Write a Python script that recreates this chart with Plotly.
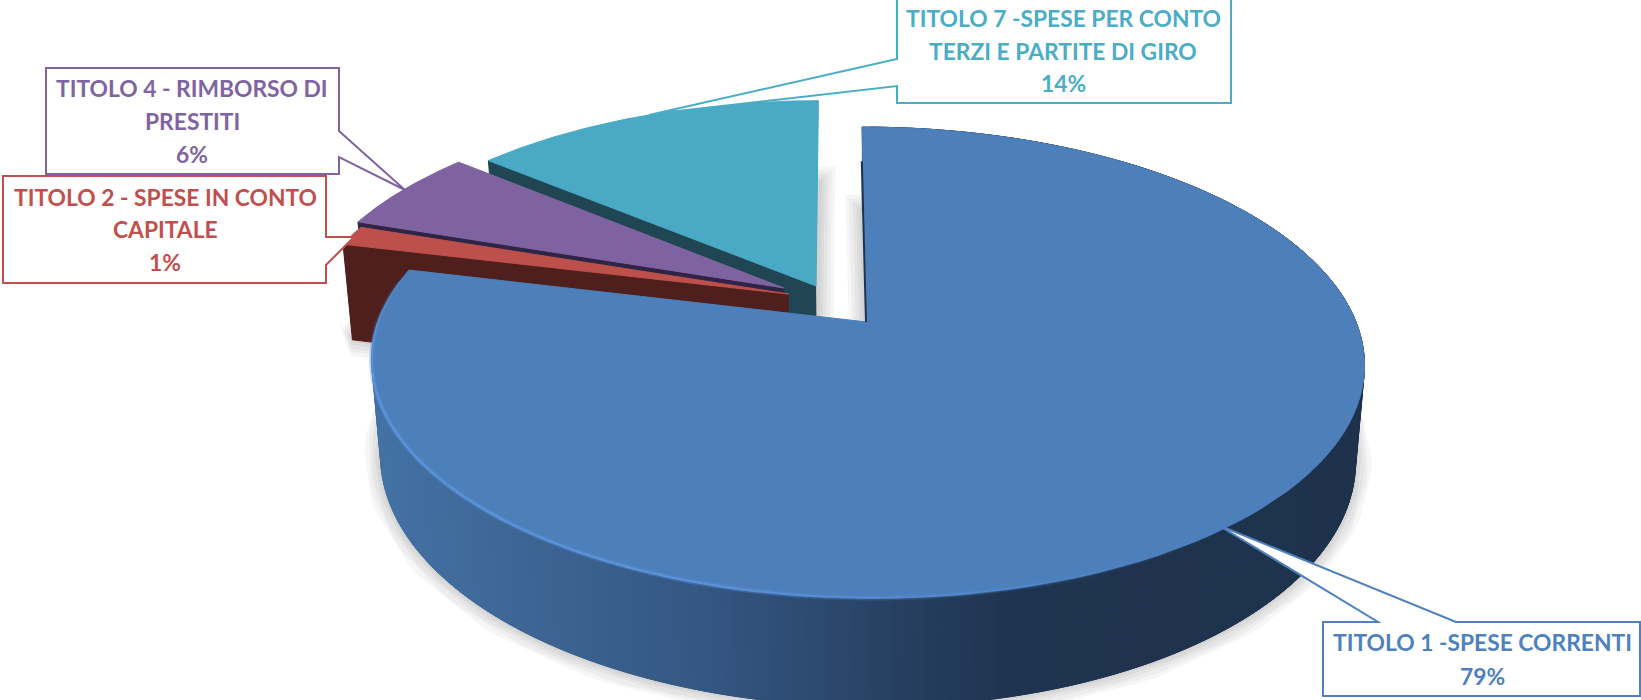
import numpy as np
import plotly.graph_objects as go

# chart data
categories = ["TITOLO 1 -SPESE CORRENTI", "TITOLO 2 - SPESE IN CONTO CAPITALE",
              "TITOLO 4 - RIMBORSO DI PRESTITI", "TITOLO 7 -SPESE PER CONTO TERZI E PARTITE DI GIRO"]
values = [78.8, 1.4, 5.9, 13.9]
label_lines = [["TITOLO 1 -SPESE CORRENTI"],
               ["TITOLO 2 - SPESE IN CONTO", "CAPITALE"],
               ["TITOLO 4 - RIMBORSO DI", "PRESTITI"],
               ["TITOLO 7 -SPESE PER CONTO", "TERZI E PARTITE DI GIRO"]]

# styling per slice
top_colors = ["#4d7fbb", "#bd504b", "#7f63a1", "#4aa9c4"]
text_colors = ["#4f81bd", "#c0504d", "#8064a2", "#4bacc6"]
wall_colors = [None, "#4f1f1e", "#2f2445", "#1f4652"]
explode = [(0, 0), (-0.162, 0.125), (-0.173, 0.153), (-0.105, 0.162)]  # offset in the pie plane
depth = [94, 100, 94, 94]

# label boxes: left, top, right, bottom, callout points, text centre x, line y positions
boxes = [
    dict(x0=1323, y0=622, x1=1640, y1=696, tail=[(1378, 622), (1218, 525), (1456, 622)], cx=1482, ys=[642, 676]),
    dict(x0=3, y0=176, x1=326, y1=283, tail=[(326, 237), (354, 237), (326, 265)], cx=165, ys=[197, 229, 262]),
    dict(x0=46, y0=68, x1=339, y1=174, tail=[(339, 131), (405, 190), (339, 157)], cx=192, ys=[88, 121, 154]),
    dict(x0=897, y0=-1, x1=1231, y1=103, tail=[(897, 86), (669, 112), (649, 115), (897, 59)], cx=1063, ys=[18, 51, 83]),
]

# perspective of the pie plane in page pixels
CX, CY = 867, 322
A, B = 489, 228.5
K = 0.172
SKEW = -6
LOW = 0.982


def project(u, v, drop=0):
    d = 1 + K * v
    scale = LOW if drop else 1
    return CX + (A * scale * u + SKEW * v) / d, CY - B * scale * v / d + drop / d


def arc(a0, a1, off, drop=0, n=120):
    t = np.radians(np.linspace(a0, a1, n))
    return project(np.sin(t) + off[0], np.cos(t) + off[1], drop)


def add_poly(fig, x, y, color, name=None):
    fig.add_trace(go.Scatter(
        x=list(x), y=list(y), mode="lines", fill="toself", fillcolor=color,
        line=dict(color=color, width=1), showlegend=False,
        hoverinfo="text" if name else "skip", text=name, hoveron="fills"
    ))


def add_line(fig, x, y, color, width):
    fig.add_trace(go.Scatter(
        x=list(x), y=list(y), mode="lines", line=dict(color=color, width=width),
        showlegend=False, hoverinfo="skip"
    ))


def slice_outline(a0, a1, off, drop=0):
    ax, ay = arc(a0, a1, off, drop)
    px, py = project(off[0], off[1], drop)
    return np.r_[px, ax, px], np.r_[py, ay, py]


def wall_color(x):
    # front wall of the big slice gets darker to the right
    stops_x = [372, 700, 1000, 1400]
    r = np.interp(x, stops_x, [68, 52, 31, 30])
    g = np.interp(x, stops_x, [114, 86, 52, 50])
    b = np.interp(x, stops_x, [164, 130, 80, 76])
    return f"rgb({r:.0f},{g:.0f},{b:.0f})"


ends = np.cumsum(values) / sum(values) * 360
starts = np.r_[0, ends[:-1]]

fig = go.Figure()

# soft shadow round the foot of each slice
for i in range(len(values)):
    sx, sy = slice_outline(starts[i], ends[i], explode[i], depth[i])
    for w in (32, 25, 18, 11, 5):
        add_line(fig, sx, sy, "rgba(0,0,0,0.035)", w)

# exploded slices, back to front
for i in (3, 2, 1):
    off = explode[i]
    px0, py0 = project(off[0], off[1])
    px1, py1 = project(off[0], off[1], depth[i])
    ax, ay = arc(starts[i], ends[i], off)
    lx, ly = arc(starts[i], ends[i], off, depth[i])
    if i == 1:  # the outer wall of the others never shows
        add_poly(fig, np.r_[ax, lx[::-1]], np.r_[ay, ly[::-1]], wall_colors[i])
    add_poly(fig, [px0, ax[0], lx[0], px1], [py0, ay[0], ly[0], py1], wall_colors[i])
    tx, ty = slice_outline(starts[i], ends[i], off)
    add_poly(fig, tx, ty, top_colors[i], f"{categories[i]}: {values[i]:.0f}%")

# big slice: wall as overlapping strips so the shade can change along it
edges = np.linspace(starts[0], ends[0], 241)
for a0, a1 in zip(edges[:-1], edges[2:]):
    ax, ay = arc(a0, a1, explode[0], n=3)
    lx, ly = arc(a0, a1, explode[0], depth[0], n=3)
    add_poly(fig, np.r_[ax, lx[::-1]], np.r_[ay, ly[::-1]], wall_color(ax.mean()))

tx, ty = slice_outline(starts[0], ends[0], explode[0])
add_poly(fig, tx, ty, top_colors[0], f"{categories[0]}: {values[0]:.0f}%")

# dark sliver along the straight edge at twelve o'clock
ex, ey = project(np.zeros(2), np.array([0.80, 0.0]))
add_line(fig, ex - 1, ey, "#1f3350", 2)

# light rim on the front left of the top face
rim = np.linspace(140, ends[0] - 3, 80)
for a0, a1 in zip(rim[:-1], rim[1:]):
    ax, ay = arc(a0, a1, explode[0], n=3)
    alpha = np.clip((a0 - 140) / 60, 0, 1) * np.clip((ends[0] - a0) / 25, 0.3, 1)
    add_line(fig, ax, ay, f"rgba(92,148,220,{alpha * 0.35:.2f})", 5)
    add_line(fig, ax, ay, f"rgba(92,148,220,{alpha:.2f})", 2)

# label boxes with their callout tails
shapes = []
annotations = []
for i, box in enumerate(boxes):
    x0, y0, x1, y1 = box["x0"], box["y0"], box["x1"], box["y1"]
    if i in (1, 2):
        pts = [(x1, y0), *box["tail"], (x1, y1), (x0, y1), (x0, y0)]
    elif i == 3:
        pts = [(x0, y0), (x1, y0), (x1, y1), (x0, y1), *box["tail"]]
    else:
        pts = [(x0, y0), *box["tail"], (x1, y0), (x1, y1), (x0, y1)]
    path = "M " + " L ".join(f"{x},{y}" for x, y in pts) + " Z"
    shapes.append(dict(type="path", path=path, xref="x", yref="y", fillcolor="white",
                       line=dict(color=text_colors[i], width=2), layer="above"))
    lines = label_lines[i] + [f"{values[i]:.0f}%"]
    for line, y in zip(lines, box["ys"]):
        annotations.append(dict(text=f"<b>{line}</b>", x=box["cx"], y=y, xref="x", yref="y",
                                showarrow=False, xanchor="center", yanchor="middle",
                                font=dict(family="Lato", size=22.8, color=text_colors[i])))

fig.update_layout(
    width=1641, height=700, margin=dict(l=0, r=0, t=0, b=0),
    paper_bgcolor="white", plot_bgcolor="white", showlegend=False,
    xaxis=dict(range=[0, 1641], visible=False, fixedrange=True),
    yaxis=dict(range=[700, 0], visible=False, fixedrange=True),
    shapes=shapes, annotations=annotations
)

fig.write_html("out.html", config={"displayModeBar": False},
               post_script="document.body.style.margin='0';")
